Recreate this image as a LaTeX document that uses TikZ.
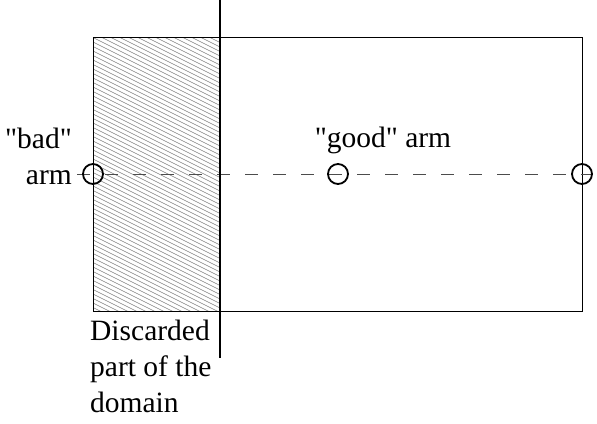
\documentclass[tikz,border=0pt]{standalone}
\usepackage{fontspec}
\newfontfamily\tnr{Liberation Serif}
\begin{document}
\begin{tikzpicture}[x=1pt,y=-1pt,
  lbl/.style={inner sep=0pt,font=\tnr\fontsize{29.5}{36}\selectfont},
  arm/.style={circle,draw=black,line width=1.8pt,minimum size=20pt,inner sep=0pt},
  hatch/.style={draw=black!50,line width=0.55pt},
  divider/.style={draw=black,line width=2pt},
  border/.style={draw=black,line width=1pt},
  axis/.style={draw=black!70,line width=0.9pt,dash pattern=on 13pt off 15pt}]
\useasboundingbox (0,0) rectangle (597,423);
% hatched discarded part
\begin{scope}
  \clip (93,37) rectangle (220,311);
  \foreach \k in {0,...,75} {
    \draw[hatch] (93,{-30+4.5*\k}) -- (220,{-30+4.5*\k+63.5});
  }
\end{scope}
% domain
\draw[border] (93,37) rectangle (582,311);
% arms axis
\coordinate (l) at (77,174);
\coordinate (r) at (592,174);
\draw[axis] (l) -- (r);
\node[arm] (bad) at (93,174) {};
\node[arm] (good) at (338,174) {};
\node[arm] (edge) at (582,174) {};
% divider
\coordinate (dtop) at (220,0);
\coordinate (dbot) at (220,358);
\draw[divider] (dtop) -- (dbot);
% labels
\node[lbl,anchor=north east,align=right] (badlbl) at (72,128) {"bad"\\arm};
\node[lbl,anchor=base] (goodlbl) at (383,147) {"good" arm};
\node[lbl,anchor=north west,align=left] (disc) at (90,320) {Discarded\\part of the\\domain};
\end{tikzpicture}
\end{document}
